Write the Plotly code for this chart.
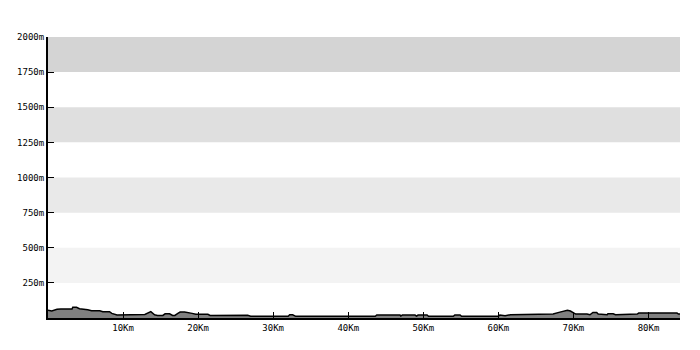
import plotly.graph_objects as go

# Elevation profile (distance in km, elevation in m)
distance_km = [0, 0.5, 1.2, 1.7, 3.2, 3.3, 3.8, 4.2, 5.3, 5.8,
               6.9, 7.3, 8.2, 8.5, 9.2, 11.3, 11.6, 12.9, 13.7, 14.2,
               14.6, 15.3, 15.6, 16.2, 16.6, 16.9, 17.3, 17.6, 18.2, 18.6,
               19.2, 19.7, 21.3, 21.6, 24.2, 26.6, 27.0, 27.6, 32.0, 32.2,
               32.6, 33.0, 43.6, 43.8, 46.9, 47.0, 47.2, 48.9, 49.1, 49.3,
               50.5, 50.7, 54.0, 54.2, 54.9, 55.1, 60.0, 60.2, 60.6, 60.9,
               61.6, 65.8, 67.3, 68.2, 69.2, 69.6, 70.0, 70.3, 71.8, 72.2,
               72.6, 73.1, 73.3, 73.9, 74.5, 74.6, 75.3, 75.6, 77.3, 77.6,
               78.5, 78.7, 81.6, 81.8, 82.5, 82.6, 83.8, 84.0, 84.2]
elevation_m = [55, 50, 62, 64, 64, 76, 76, 66, 59, 52,
               52, 45, 45, 33, 21, 21, 20, 25, 45, 23,
               18, 18, 30, 30, 18, 18, 33, 42, 42, 40,
               33, 26, 26, 18, 19, 19, 12, 12, 12, 23,
               23, 12, 12, 21, 21, 14, 21, 21, 14, 21,
               21, 12, 12, 21, 21, 12, 12, 21, 21, 16,
               23, 23, 28, 42, 55, 50, 35, 28, 28, 23,
               40, 40, 28, 28, 23, 30, 30, 23, 23, 28,
               28, 35, 35, 30, 30, 35, 35, 28, 28]

x_tick_vals = [10, 20, 30, 40, 50, 60, 70, 80]
x_tick_text = ["10Km", "20Km", "30Km", "40Km", "50Km", "60Km", "70Km", "80Km"]
y_tick_vals = [250, 500, 750, 1000, 1250, 1500, 1750, 2000]
y_tick_text = ["250m", "500m", "750m", "1000m", "1250m", "1500m", "1750m", "2000m"]

band_ranges = [(250, 500), (750, 1000), (1250, 1500), (1750, 2000)]
band_colors = ["#f3f3f3", "#e9e9e9", "#dfdfdf", "#d4d4d4"]

fig = go.Figure()
fig.add_trace(go.Scatter(
    x=distance_km, y=elevation_m, mode="lines",
    fill="tozeroy", fillcolor="#808080",
    line=dict(color="black", width=1.5),
    hoverinfo="x+y", showlegend=False,
))

shapes = []
for (y0, y1), c in zip(band_ranges, band_colors):
    shapes.append(dict(type="rect", xref="paper", x0=0, x1=1, yref="y",
                       y0=y0, y1=y1, fillcolor=c, line=dict(width=0),
                       layer="below"))

fig.update_layout(
    width=700, height=350,
    margin=dict(l=48, r=20, t=37, b=32),
    paper_bgcolor="white", plot_bgcolor="white",
    shapes=shapes,
    font=dict(family="DejaVu Sans Mono", size=9, color="black"),
    xaxis=dict(range=[0, 84.2], tickvals=x_tick_vals, ticktext=x_tick_text,
               ticks="inside", ticklen=6, tickwidth=1, tickcolor="black",
               showline=True, linecolor="black", linewidth=2,
               showgrid=False, zeroline=False, fixedrange=True),
    yaxis=dict(range=[0, 2000], tickvals=y_tick_vals, ticktext=y_tick_text,
               ticks="inside", ticklen=6, tickwidth=1, tickcolor="black",
               showline=True, linecolor="black", linewidth=2,
               showgrid=False, zeroline=False, fixedrange=True),
)

fig.write_html("out.html")
